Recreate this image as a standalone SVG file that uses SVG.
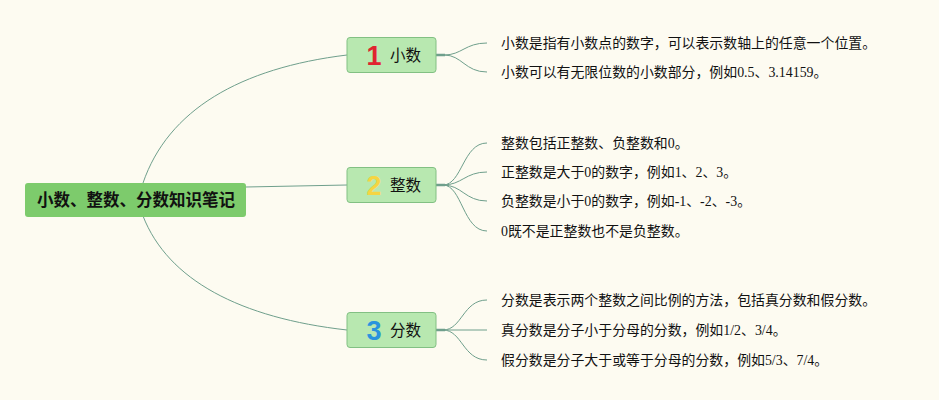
<svg xmlns="http://www.w3.org/2000/svg" width="939" height="400" viewBox="0 0 939 400">
<style>
.bg{fill:#fdfbf1}
.root{fill:#7dcb6c}
.node{fill:#b8e8b0;stroke:#82c083;stroke-width:1}
.rt{font-family:"Liberation Sans","Noto Sans CJK SC",sans-serif;font-size:16.5px;font-weight:bold;fill:#111}
.nt{font-family:"Liberation Sans","Noto Sans CJK SC",sans-serif;font-size:15.5px;fill:#111}
.num{font-family:"Liberation Sans","DejaVu Sans",sans-serif;font-size:27px;font-weight:bold;text-anchor:middle}
.lt{font-family:"Liberation Serif","Noto Sans CJK SC",serif;font-size:13.9px;fill:#111}
.c{fill:none;stroke:#6f9f8c;stroke-width:1}
.stub{fill:none;stroke:#6f9f8c;stroke-width:2.5}
</style>
<rect class="bg" x="0" y="0" width="939" height="400"/>
<g id="connectors">
<path class="c" d="M143,183 C168,110 240,68 347,55"/>
<path class="c" d="M246,187 L347,185"/>
<path class="c" d="M143,216 C168,280 240,318 347,330"/>
<path class="stub" d="M436,55 L445,55"/>
<path class="c" d="M444,55 C462,55 465,43 487,43"/>
<path class="c" d="M444,55 C462,55 465,72 487,72"/>
<path class="stub" d="M436,185 L445,185"/>
<path class="c" d="M443,185 C462,185 463,143 487,143"/>
<path class="c" d="M443,185 C462,185 465,172 487,172"/>
<path class="c" d="M443,185 C462,185 465,201 487,201"/>
<path class="c" d="M443,185 C462,185 463,231 487,231"/>
<path class="stub" d="M436,330 L445,330"/>
<path class="c" d="M443,330 C462,330 463,300 487,300"/>
<path class="c" d="M443,330 L487,330"/>
<path class="c" d="M443,330 C462,330 463,360 487,360"/>
</g>
<g id="root">
<rect class="root" x="25" y="183" width="221" height="34" rx="3"/>
<text class="rt" x="136" y="206" text-anchor="middle">小数、整数、分数知识笔记</text>
</g>
<g id="node1">
<rect class="node" x="347" y="37.5" width="89" height="35" rx="3"/>
<text class="num" x="374" y="65" fill="#e0242f">1</text>
<text class="nt" x="390" y="60.5">小数</text>
</g>
<g id="node2">
<rect class="node" x="347" y="167.5" width="89" height="35" rx="3"/>
<text class="num" x="374" y="195" fill="#f5d542">2</text>
<text class="nt" x="390" y="190.5">整数</text>
</g>
<g id="node3">
<rect class="node" x="347" y="312.5" width="89" height="35" rx="3"/>
<text class="num" x="374" y="340" fill="#2a93dd">3</text>
<text class="nt" x="390" y="335.5">分数</text>
</g>
<g id="leaves1">
<text class="lt" x="501" y="48">小数是指有小数点的数字，可以表示数轴上的任意一个位置。</text>
<text class="lt" x="501" y="77">小数可以有无限位数的小数部分，例如0.5、3.14159。</text>
</g>
<g id="leaves2">
<text class="lt" x="501" y="148">整数包括正整数、负整数和0。</text>
<text class="lt" x="501" y="177">正整数是大于0的数字，例如1、2、3。</text>
<text class="lt" x="501" y="206">负整数是小于0的数字，例如-1、-2、-3。</text>
<text class="lt" x="501" y="236">0既不是正整数也不是负整数。</text>
</g>
<g id="leaves3">
<text class="lt" x="501" y="305">分数是表示两个整数之间比例的方法，包括真分数和假分数。</text>
<text class="lt" x="501" y="335">真分数是分子小于分母的分数，例如1/2、3/4。</text>
<text class="lt" x="501" y="365">假分数是分子大于或等于分母的分数，例如5/3、7/4。</text>
</g>
</svg>
